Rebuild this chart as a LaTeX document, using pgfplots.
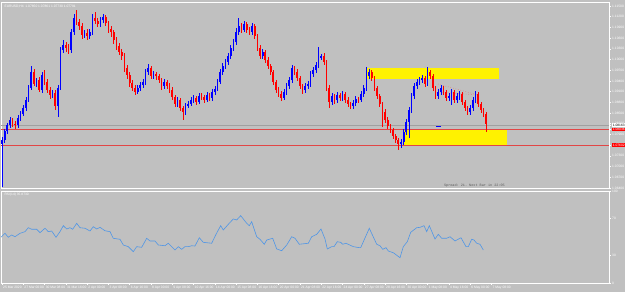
\documentclass[border=0pt]{standalone}
\usepackage{fontspec}
\setmainfont{Liberation Sans}
\setmonofont{Liberation Mono}
\usepackage{pgfplots}
\usepackage{pgfplotstable}
\pgfplotsset{compat=1.18}
\definecolor{bg}{RGB}{192,192,192}
\definecolor{cblue}{RGB}{0,0,255}
\definecolor{cred}{RGB}{255,0,0}
\definecolor{lred}{RGB}{225,70,70}
\definecolor{dotred}{RGB}{225,120,120}
\definecolor{rsiblue}{RGB}{80,150,230}
\definecolor{bidgray}{RGB}{160,160,160}
\definecolor{spreadc}{RGB}{90,90,90}
\pgfplotsset{
  wick/.style={draw=none, mark=none, restrict y to domain=-100:1000, error bars/.cd, y dir=both, y explicit, error mark=none, error bar style={draw=#1, solid, line width=0.6pt}},
  body/.style={draw=none, mark=none, restrict y to domain=-100:1000, error bars/.cd, y dir=both, y explicit, error mark=none, error bar style={draw=#1, solid, line width=1.7pt}},
}
\newcommand\tk{\fontsize{3.3}{3.6}\selectfont}
% candles: bar index, open, high, low, close (price levels in chart units)
\pgfplotstableread{
i o h l c
0 46 53 3 50
1 50 61 47 59
2 59 67 56 65
3 65 73 62 70
4 70 72 63 66
5 66 69 61 65
6 65 75 62 72
7 72 79 69 76
8 76 85 74 82
9 82 93 79 90
10 90 105 88 102
11 102 124 100 118
12 118 121 104 106
13 106 112 103 110
14 110 113 98 100
15 100 118 97 115
16 115 120 105 108
17 108 111 97 100
18 100 103 91 95
19 95 100 92 97
20 97 100 80 84
21 84 105 73 102
22 102 143 100 140
23 140 150 137 145
24 145 148 138 142
25 142 146 136 140
26 140 161 137 158
27 158 176 155 172
28 172 180 165 168
29 168 171 160 164
30 164 167 151 155
31 155 160 152 157
32 157 161 150 154
33 154 161 151 158
34 158 176 155 172
35 172 178 166 169
36 169 172 163 166
37 166 173 163 170
38 170 176 167 173
39 173 175 164 167
40 167 169 157 161
41 161 164 153 158
42 158 160 146 150
43 150 153 140 144
44 144 147 135 138
45 138 141 130 134
46 134 137 118 122
47 122 125 111 115
48 115 118 103 107
49 107 110 99 102
50 102 105 95 98
51 98 105 96 102
52 102 108 99 105
53 105 111 102 108
54 108 121 105 118
55 118 126 115 122
56 122 124 111 114
57 114 119 111 116
58 116 118 110 114
59 114 116 107 110
60 110 112 100 104
61 104 111 101 108
62 108 110 101 104
63 104 107 97 100
64 100 103 90 93
65 93 95 83 86
66 86 93 83 90
67 90 92 79 82
68 82 84 70 78
69 78 87 75 84
70 84 89 82 86
71 86 93 84 90
72 90 95 87 92
73 92 94 85 88
74 88 97 86 94
75 94 97 90 93
76 93 95 87 90
77 90 98 88 95
78 95 97 89 92
79 92 101 89 98
80 98 104 95 101
81 101 111 99 108
82 108 121 106 118
83 118 127 115 124
84 124 131 121 128
85 128 137 125 134
86 134 145 131 142
87 142 151 139 148
88 148 162 145 158
89 158 172 155 164
90 164 167 157 160
91 160 169 158 166
92 166 168 157 160
93 160 163 155 158
94 158 167 155 164
95 164 166 151 154
96 154 156 139 142
97 142 145 131 134
98 134 141 131 138
99 138 140 127 130
100 130 133 121 124
101 124 126 115 118
102 118 120 105 108
103 108 110 97 100
104 100 103 93 96
105 96 99 89 92
106 92 101 90 98
107 98 107 95 104
108 104 113 101 110
109 110 125 107 122
110 122 124 115 118
111 118 121 109 112
112 112 114 101 104
113 104 106 96 100
114 100 107 97 104
115 104 109 101 106
116 106 119 103 116
117 116 123 113 120
118 120 128 117 125
119 125 143 122 132
120 132 136 130 134
121 134 137 125 128
122 128 130 99 102
123 102 105 82 88
124 88 97 85 94
125 94 96 86 90
126 90 98 87 95
127 95 97 89 92
128 92 99 89 96
129 96 98 87 90
130 90 93 83 86
131 86 88 81 84
132 84 90 81 87
133 87 94 84 91
134 91 93 87 90
135 90 99 88 96
136 96 105 93 102
137 102 123 99 114
138 114 121 111 118
139 118 120 109 112
140 112 114 99 102
141 102 104 91 94
142 94 96 83 86
143 86 88 63 78
144 78 81 67 70
145 70 73 61 64
146 64 66 57 60
147 60 62 51 54
148 54 56 47 50
149 50 52 40 46
150 46 51 42 48
151 48 61 45 58
152 58 71 55 68
153 68 83 52 80
154 80 97 77 94
155 94 107 91 104
156 104 111 101 108
157 108 113 105 110
158 110 115 107 112
159 112 114 103 106
160 106 123 104 118
161 118 120 111 114
162 114 116 99 102
163 102 104 91 94
164 94 101 91 98
165 98 105 95 102
166 102 104 95 98
167 98 100 89 92
168 92 97 89 94
169 94 101 85 98
170 98 100 87 90
171 90 97 87 94
172 94 99 90 96
173 96 98 85 88
174 88 90 79 82
175 82 84 75 78
176 78 85 75 82
177 82 93 79 90
178 90 99 87 96
179 96 98 83 86
180 86 88 77 80
181 80 82 73 76
182 76 78 58 66
}\candles
% RSI(14): chart x position, value
\pgfplotstableread{
x v
1 49.7
5 54.0
8.3 49.7
11.7 52.2
15 50.3
20 54.0
25 55.8
28.3 60.1
31.7 58.4
36.7 58.4
40 54.7
45 59.5
48.3 55.8
51.7 56.5
56 49.7
60 55.8
63.3 62.3
66.7 58.7
70 60.1
72.7 58.4
76.7 64.9
80 60.1
85 59.5
90 56.5
93.3 61.2
96.7 58.7
100 60.5
105 56.8
110 55.8
113.3 48.6
120 47.5
123.3 41.3
128.3 39.5
133.3 34.0
136.7 39.5
141.7 38.8
146.7 48.6
150 45.7
155 45.7
158.3 41.3
165 40.5
168.3 43.2
175 35.9
178.3 39.5
181.7 36.6
185 39.5
188.3 39.5
191.7 40.5
195 40.2
199.3 49.2
203.3 44.2
211.7 43.2
216 52.9
220.7 62.3
223.3 57.6
228.3 63.8
233.3 69.6
236.7 68.5
240.7 73.2
246.7 64.9
249.3 62.3
251.7 66.6
256.7 50.3
260 47.5
264.3 42.1
266.7 46.7
272.7 48.6
276.7 37.0
281.7 35.1
286.7 41.3
291.7 50.3
295 48.6
299.3 42.1
308.3 43.2
311.7 50.3
316.7 52.9
321 58.7
325 47.8
327.3 37.0
331.7 39.5
334 39.5
337.3 44.9
340.7 44.2
342.7 42.1
346 43.2
353.3 39.5
359.3 38.4
360.7 38.4
369.3 59.5
376.7 42.1
380 40.5
382.7 36.6
386 38.4
388.3 34.8
393.3 32.9
400 27.5
403.3 39.5
407.3 44.9
410.7 55.1
416.7 60.1
420 60.5
424 62.3
426.7 55.8
429.3 62.3
435 47.8
438.3 52.9
441.7 48.6
446.7 48.6
450 50.3
455 45.7
461 49.2
466 39.5
468.3 39.5
471.7 47.5
474 46.7
476.7 43.2
480 42.1
483.3 35.9
}\rsi
\begin{document}
\begin{tikzpicture}
\useasboundingbox (0,0) rectangle (625bp,292bp);
\fill[bg] (0,0) rectangle (625bp,292bp);
% ---------------- main price panel ----------------
\begin{axis}[
  at={(1bp,104bp)}, anchor=south west, scale only axis,
  width=608bp, height=186bp,
  xmin=1, xmax=609, ymin=2, ymax=188,
  axis line style={white, line width=0.7pt},
  xtick=\empty,
  ytick pos=right, tick align=outside, major tick length=2pt,
  tick style={white, line width=0.4pt},
  ytick={184,173.3,162.6,151.9,141.2,130.5,119.8,109.1,98.4,87.7,77,66.3,55.6,44.9,34.2,23.5,12.8,2.1},
  yticklabels={1.11500,1.11200,1.10900,1.10600,1.10300,1.10000,1.09700,1.09400,1.09100,1.08800,1.08500,1.08200,1.07900,1.07600,1.07300,1.07000,1.06700,1.06400},
  yticklabel style={font=\tk, text=white, inner sep=1pt},
  extra y ticks={65,60.5,45},
  extra y tick labels={{\setlength{\fboxsep}{0.6pt}\colorbox{white}{\textcolor{black}{1.08163}}},{\setlength{\fboxsep}{0.6pt}\colorbox{cred}{\textcolor{white}{1.08036}}},{\setlength{\fboxsep}{0.6pt}\colorbox{cred}{\textcolor{white}{1.07602}}}},
]
% zones
\addplot[fill=yellow, draw=none] coordinates {(366,122.3) (499,122.3) (499,111.3) (366,111.3)};
\addplot[fill=yellow, draw=none] coordinates {(403,60.5) (507,60.5) (507,45) (403,45)};
% horizontal levels
\addplot[bidgray, line width=0.8pt] coordinates {(1,65) (609,65)};
\addplot[lred, line width=0.8pt] coordinates {(1,60.5) (609,60.5)};
\addplot[lred, line width=0.8pt] coordinates {(1,45) (609,45)};
% trend lines
\addplot[dotred, dotted, line width=0.6pt] coordinates {(438,106) (478,95)};
\addplot[dotred, dotted, line width=0.6pt] coordinates {(440,98) (478,95)};
\addplot[cblue, line width=0.6pt] coordinates {(436,64) (441,64)};
% candles (bearish rows pushed out of range in the bullish plots and vice versa)
\addplot[wick=cblue] table[x expr=2+2.66*\thisrow{i}, y expr={(\thisrow{h}+\thisrow{l})/2+10000*(\thisrow{c}<\thisrow{o})}, y error expr=(\thisrow{h}-\thisrow{l})/2] {\candles};
\addplot[wick=cred] table[x expr=2+2.66*\thisrow{i}, y expr={(\thisrow{h}+\thisrow{l})/2+10000*(\thisrow{c}>\thisrow{o})}, y error expr=(\thisrow{h}-\thisrow{l})/2] {\candles};
\addplot[body=cblue] table[x expr=2+2.66*\thisrow{i}, y expr={(\thisrow{o}+\thisrow{c})/2+10000*(\thisrow{c}<\thisrow{o})}, y error expr=abs(\thisrow{c}-\thisrow{o})/2] {\candles};
\addplot[body=cred] table[x expr=2+2.66*\thisrow{i}, y expr={(\thisrow{o}+\thisrow{c})/2+10000*(\thisrow{c}>\thisrow{o})}, y error expr=abs(\thisrow{c}-\thisrow{o})/2] {\candles};
\node[anchor=north west, font=\tk, text=white, inner sep=1pt] at (rel axis cs:0.004,0.99) {EURUSD,H4\ \ 1.07850 1.07861 1.07730 1.07791};
\node[anchor=base east, font=\ttfamily\fontsize{3.5}{4}\selectfont, text=spreadc, inner sep=0pt] at (axis cs:505,3.5) {Spread: 21. Next Bar in 22:05};
\end{axis}
% ---------------- RSI panel ----------------
\begin{axis}[
  at={(1bp,9bp)}, anchor=south west, scale only axis,
  width=608bp, height=92bp,
  xmin=1, xmax=609, ymin=0, ymax=100,
  axis line style={white, line width=0.7pt},
  ytick pos=right, xtick pos=bottom, tick align=outside, major tick length=2pt,
  tick style={white, line width=0.4pt},
  ytick={0,30,70,100}, yticklabels={0,30,70,100},
  yticklabel style={font=\tk, text=white, inner sep=1pt},
  xtick={2,23.28,44.56,65.84,87.12,108.4,129.68,150.96,172.24,193.52,214.8,236.08,257.36,278.64,299.92,321.2,342.48,363.76,385.04,406.32,427.6,448.88,470.16,491.44},
  xticklabels={25 Mar 2020,27 Mar 00:00,30 Mar 08:00,31 Mar 16:00,2 Apr 00:00,3 Apr 08:00,6 Apr 16:00,8 Apr 00:00,9 Apr 08:00,10 Apr 16:00,14 Apr 00:00,15 Apr 08:00,16 Apr 16:00,20 Apr 00:00,21 Apr 08:00,22 Apr 16:00,24 Apr 00:00,27 Apr 08:00,28 Apr 16:00,30 Apr 00:00,1 May 08:00,4 May 16:00,6 May 00:00,7 May 08:00},
  xticklabel style={anchor=north west, font=\tk, text=white, inner sep=1pt},
]
\addplot[rsiblue, line width=0.6pt] table[x=x, y=v] {\rsi};
\node[anchor=north west, font=\tk, text=white, inner sep=1pt] at (rel axis cs:0.004,0.985) {RSI(14) 35.8730};
\end{axis}
\end{tikzpicture}
\end{document}
